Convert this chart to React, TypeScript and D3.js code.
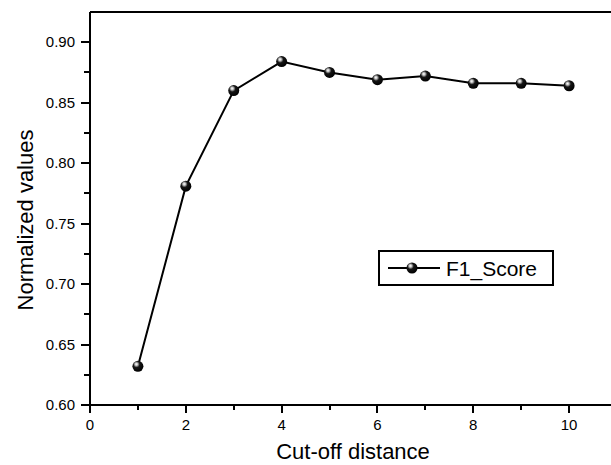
import * as d3 from "d3";

const cutoff = [1, 2, 3, 4, 5, 6, 7, 8, 9, 10];
const f1Score = [0.632, 0.781, 0.86, 0.884, 0.875, 0.869, 0.872, 0.866, 0.866, 0.864];

const xMajor = [0, 2, 4, 6, 8, 10];
const xMinor = [1, 3, 5, 7, 9];
const yMajor = [0.6, 0.65, 0.7, 0.75, 0.8, 0.85, 0.9];
const yMinor = [0.625, 0.675, 0.725, 0.775, 0.825, 0.875];

const seriesName = "F1_Score";
const xTitle = "Cut-off distance";
const yTitle = "Normalized values";

const width = 611;
const height = 465;
const margin = { top: 12, right: -6, bottom: 60, left: 90 };
const font = "'Liberation Sans', Arial, sans-serif";

const App = () => {
  const xScale = d3
    .scaleLinear()
    .domain([0, 11])
    .range([margin.left, width - margin.right]);
  const yScale = d3
    .scaleLinear()
    .domain([0.6, 0.925])
    .range([height - margin.bottom, margin.top]);

  const points = cutoff.map((c, i) => ({ x: c, y: f1Score[i] }));

  // line through all points
  const line = d3
    .line<{ x: number; y: number }>()
    .x((d) => xScale(d.x))
    .y((d) => yScale(d.y));

  const y0 = yScale(0.6);
  const x0 = xScale(0);
  const yTop = yScale(0.925);

  const legX = 379;
  const legY = 251;

  return (
    <svg
      width={width}
      height={height}
      style={{ position: "absolute", left: 0, top: 0, background: "#fff" }}
      fontFamily={font}
    >
      <defs>
        <radialGradient id="ball" cx="0.4" cy="0.35" r="0.65" fx="0.35" fy="0.3">
          <stop offset="0" stopColor="#ffffff" />
          <stop offset="0.18" stopColor="#c8c8c8" />
          <stop offset="0.45" stopColor="#151515" />
          <stop offset="1" stopColor="#000000" />
        </radialGradient>
      </defs>

      {/* frame: top and left / bottom axes */}
      <g shapeRendering="crispEdges" stroke="#000">
        <line x1={x0} x2={width} y1={yTop} y2={yTop} strokeWidth={2} />
        <line x1={x0} x2={x0} y1={yTop} y2={y0} strokeWidth={2} />
        <line x1={x0} x2={width} y1={y0} y2={y0} strokeWidth={2} />

        {yMajor.map((v) => (
          <line key={"ym" + v} x1={x0 - 9} x2={x0} y1={yScale(v)} y2={yScale(v)} strokeWidth={2} />
        ))}
        {yMinor.map((v) => (
          <line key={"yn" + v} x1={x0 - 6} x2={x0} y1={yScale(v)} y2={yScale(v)} strokeWidth={2} />
        ))}
        {xMajor.map((v) => (
          <line key={"xm" + v} x1={xScale(v)} x2={xScale(v)} y1={y0} y2={y0 + 8} strokeWidth={2} />
        ))}
        {xMinor.map((v) => (
          <line key={"xn" + v} x1={xScale(v)} x2={xScale(v)} y1={y0} y2={y0 + 5} strokeWidth={2} />
        ))}
      </g>

      {/* tick labels */}
      {yMajor.map((v) => (
        <text
          key={"yl" + v}
          x={x0 - 15}
          y={yScale(v)}
          dy="0.35em"
          textAnchor="end"
          fontSize={15}
        >
          {d3.format(".2f")(v)}
        </text>
      ))}
      {xMajor.map((v) => (
        <text key={"xl" + v} x={xScale(v)} y={y0 + 25} textAnchor="middle" fontSize={15}>
          {v}
        </text>
      ))}

      {/* axis titles */}
      <text x={353} y={459} textAnchor="middle" fontSize={22}>
        {xTitle}
      </text>
      <text
        transform={`translate(33, 220) rotate(-90)`}
        textAnchor="middle"
        fontSize={22}
      >
        {yTitle}
      </text>

      {/* series */}
      <path d={line(points) ?? ""} fill="none" stroke="#000" strokeWidth={2} />
      {points.map((d) => (
        <circle
          key={d.x}
          cx={xScale(d.x)}
          cy={yScale(d.y)}
          r={5.5}
          fill="url(#ball)"
        />
      ))}

      {/* legend */}
      <rect
        x={legX}
        y={legY}
        width={174}
        height={34}
        fill="#fff"
        stroke="#000"
        strokeWidth={2}
        shapeRendering="crispEdges"
      />
      <line x1={legX + 9} x2={legX + 61} y1={legY + 17} y2={legY + 17} stroke="#000" strokeWidth={2} />
      <circle cx={legX + 33} cy={legY + 17} r={5.5} fill="url(#ball)" />
      <text x={legX + 67} y={legY + 25} fontSize={21}>
        {seriesName}
      </text>
    </svg>
  );
};

export default App;
